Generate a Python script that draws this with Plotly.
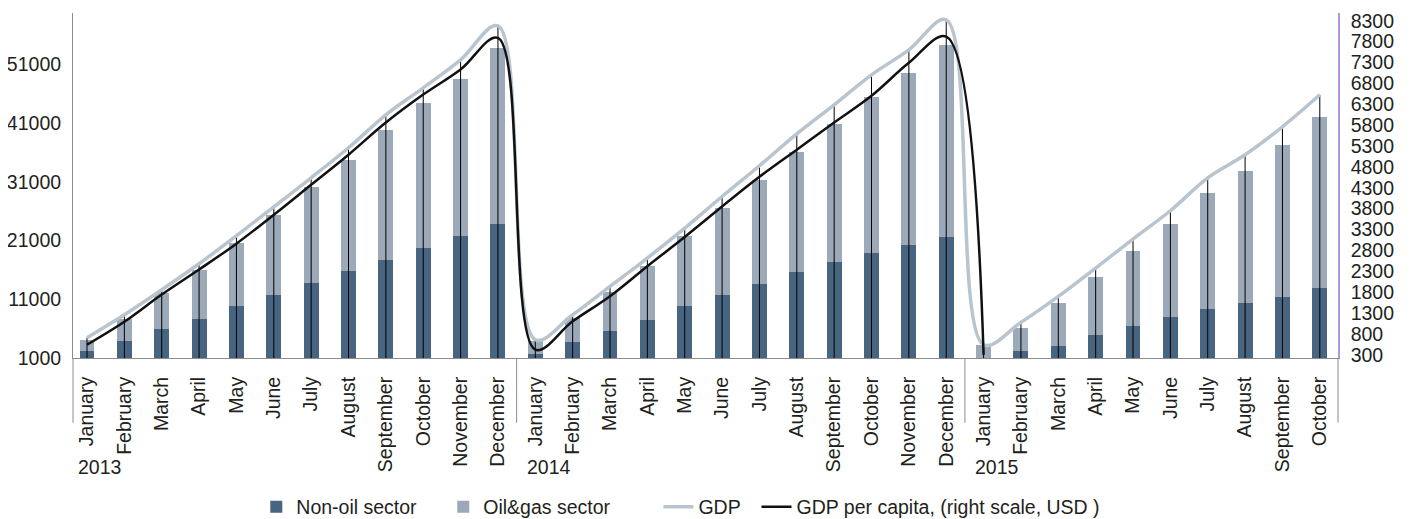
import plotly.graph_objects as go

# ---------------- data ----------------
month_names = ["January", "February", "March", "April", "May", "June", "July",
               "August", "September", "October", "November", "December"]
years = ["2013", "2014", "2015"]
months_per_year = [12, 12, 10]

non_oil = [2120, 3940, 5980, 7680, 9900, 11770, 13810, 15850, 17720, 19760, 21680, 23790,
           1730, 3650, 5520, 7510, 9780, 11650, 13640, 15680, 17380, 18910, 20270, 21510,
           900, 2120, 3090, 4960, 6490, 7900, 9380, 10400, 11430, 12900]
oil_gas = [1990, 3740, 6120, 8330, 10710, 13600, 16330, 18880, 22110, 24660, 26740, 29930,
           2210, 4150, 6630, 9180, 11900, 14860, 17690, 20410, 23470, 26530, 29200, 32770,
           2240, 3980, 7260, 9810, 12760, 15940, 19730, 22450, 25850, 29180]
gdp = [4450, 8360, 12620, 17040, 21800, 26730, 31660, 36770, 42380, 46970, 51730, 57510,
       4110, 8360, 13180, 18010, 23110, 28480, 33710, 39150, 44080, 49180, 53430, 58540,
       3260, 7060, 11480, 16310, 21240, 26050, 31660, 35580, 40340, 45780]
gdp_pc = [540, 1090, 1740, 2340, 2960, 3650, 4370, 5090, 5860, 6530, 7130, 7890,
          420, 1100, 1700, 2420, 3120, 3850, 4560, 5210, 5860, 6500, 7290, 7920,
          300, None, None, None, None, None, None, None, None, None]

left_ticks = [1000, 11000, 21000, 31000, 41000, 51000]
right_ticks = list(range(300, 8301, 500))

series_names = ["Non-oil sector", "Oil&gas sector", "GDP",
                "GDP per capita, (right scale, USD )"]

# ---------------- derived ----------------
labels = []
for y, n in zip(years, months_per_year):
    labels += month_names[:n]
xs = list(range(len(labels)))
group_starts = []
s = 0
for n in months_per_year:
    group_starts.append(s)
    s += n

Y_MIN, Y_MAX = 1000, 59700
Y2_MIN, Y2_MAX = 221, 8484

FONT = "Liberation Sans, Arial, Helvetica, sans-serif"
TXT = "#231f20"
DARK = "#476480"
LIGHT = "#9ba9b8"
GDP_C = "#b8c4ce"
AXIS_C = "#8c8c8c"
PURPLE = "#b597d6"
FS = 19.5
NB = "\u00a0"
pads = [4, 8, 2, 0]
legend_names = [n + NB * p for n, p in zip(series_names, pads)]

fig = go.Figure()
fig.add_trace(go.Bar(x=xs, y=non_oil, name=legend_names[0], marker_color=DARK,
                     marker_line_width=0))
fig.add_trace(go.Bar(x=xs, y=oil_gas, name=legend_names[1], marker_color=LIGHT,
                     marker_line_width=0))
fig.add_trace(go.Scatter(
    x=xs, y=gdp, name=legend_names[2], mode="lines",
    line=dict(color=GDP_C, width=3.5, shape="spline", smoothing=1),
    error_y=dict(type="data", symmetric=False, array=[0] * len(gdp),
                 arrayminus=[g - Y_MIN for g in gdp], width=0, thickness=1,
                 color="#000000")))
fig.add_trace(go.Scatter(
    x=xs, y=gdp_pc, name=legend_names[3], mode="lines",
    yaxis="y2", line=dict(color="#111111", width=2.5, shape="spline", smoothing=1),
    connectgaps=False))

# page geometry (pixels); the page body has an 8px margin
OFF = 8
W, H = 1411 - OFF, 519 - OFF
L, R, T, B = 72.7 - OFF, 1337.7 - OFF, 13.3 - OFF, 358.3 - OFF
plot_h = B - T
x_r0 = -0.3748
x_r1 = 33.487

def xpaper(v):
    return (v - x_r0) / (x_r1 - x_r0)

shapes = []
div_bottom = -(423 - OFF - B) / plot_h
for gs in group_starts[1:]:
    shapes.append(dict(type="line", xref="x", yref="paper", x0=gs - 0.5, x1=gs - 0.5,
                       y0=0, y1=div_bottom, line=dict(color=AXIS_C, width=1)))
for xp in (0, 1):
    shapes.append(dict(type="line", xref="paper", yref="paper", x0=xp, x1=xp,
                       y0=0, y1=div_bottom, line=dict(color=AXIS_C, width=1)))

annotations = []
for y, gs in zip(years, group_starts):
    annotations.append(dict(text=y, xref="paper", yref="paper", x=xpaper(gs - 0.5),
                            y=-(467.5 - OFF - B) / plot_h, xanchor="left",
                            yanchor="middle", xshift=8, showarrow=False,
                            font=dict(family=FONT, size=FS, color=TXT)))

fig.update_layout(
    width=W, height=H,
    margin=dict(l=L, r=W - R, t=T, b=H - B, pad=0, autoexpand=False),
    paper_bgcolor="white", plot_bgcolor="white",
    barmode="stack", bargap=0.6,
    font=dict(family=FONT, size=FS, color=TXT),
    showlegend=True,
    legend=dict(orientation="h", x=(256 - 72.7) / (R - L), xanchor="left",
                yref="container", y=(H - (507 - OFF)) / H, yanchor="middle",
                traceorder="normal", font=dict(family=FONT, size=FS, color=TXT),
                itemwidth=30),
    xaxis=dict(range=[x_r0, x_r1], tickmode="array", tickvals=xs, ticktext=labels,
               tickangle=-90, showline=True, linecolor=AXIS_C, linewidth=1,
               showgrid=False, zeroline=False, ticks="", ticklabelstandoff=10,
               automargin=False, tickfont=dict(family=FONT, size=FS, color=TXT)),
    yaxis=dict(range=[Y_MIN, Y_MAX], tickmode="array", tickvals=left_ticks,
               ticktext=[str(v) for v in left_ticks], showline=True, linecolor=AXIS_C,
               linewidth=1, showgrid=False, zeroline=False, ticks="", automargin=False,
               ticklabelstandoff=7, ticklabeloverflow="allow",
               tickfont=dict(family=FONT, size=FS, color=TXT)),
    yaxis2=dict(range=[Y2_MIN, Y2_MAX], overlaying="y", side="right", tickmode="array",
                tickvals=right_ticks, ticktext=[str(v) for v in right_ticks],
                showline=True, linecolor=PURPLE, linewidth=1.5, showgrid=False,
                zeroline=False, ticks="", ticklabelstandoff=7, automargin=False,
                ticklabeloverflow="allow",
                tickfont=dict(family=FONT, size=FS, color=TXT)),
    shapes=shapes, annotations=annotations,
)

fig.write_html("out.html")
